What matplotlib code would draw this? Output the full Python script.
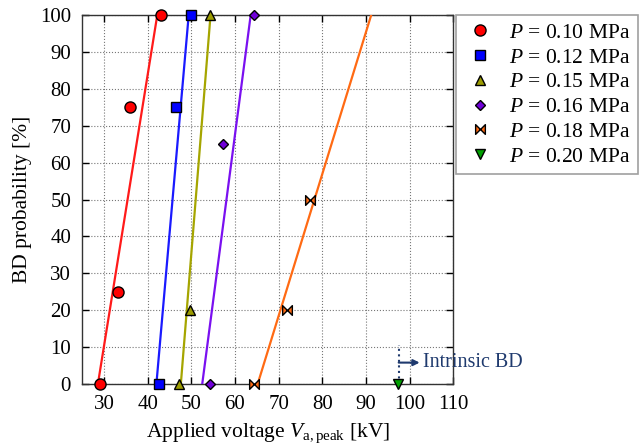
import matplotlib
matplotlib.use('Agg')
import matplotlib.pyplot as plt
from matplotlib.path import Path
import numpy as np

plt.rcParams['font.family'] = ['Liberation Serif', 'DejaVu Serif']
plt.rcParams['mathtext.fontset'] = 'custom'
plt.rcParams['mathtext.rm'] = 'Liberation Serif'
plt.rcParams['mathtext.it'] = 'Liberation Serif:italic'

# measured points (voltage kV, BD probability %)
pressures = ['0.10', '0.12', '0.15', '0.16', '0.18', '0.20']
v_010 = [29.0, 33.3, 35.9, 43.0]
p_010 = [0, 25, 75, 100]
v_012 = [42.5, 46.6, 49.9]
p_012 = [0, 75, 100]
v_015 = [47.1, 49.8, 54.3]
p_015 = [0, 20, 100]
v_016 = [54.2, 57.3, 64.4]
p_016 = [0, 65, 100]
v_018 = [64.4, 71.9, 77.3]
p_018 = [0, 20, 50]
v_020 = [97.3]
p_020 = [0]

# fitted lines: voltage at 0 % and at 100 %
fit_010 = [28.6, 42.2]
fit_012 = [42.0, 49.4]
fit_015 = [47.6, 54.4]
fit_016 = [52.5, 63.6]
fit_018 = [65.2, 91.2]

bowtie = Path([(-1, -1), (-1, 1), (0, 0), (1, 1), (1, -1), (0, 0), (-1, -1)],
              [Path.MOVETO, Path.LINETO, Path.LINETO, Path.LINETO,
               Path.LINETO, Path.LINETO, Path.CLOSEPOLY])

series = [
    (v_010, p_010, fit_010, 'o', '#ff0000', '#ff1a1a', 8),
    (v_012, p_012, fit_012, 's', '#0000ff', '#1a1aff', 7),
    (v_015, p_015, fit_015, '^', '#9c9c00', '#a5a500', 7.5),
    (v_016, p_016, fit_016, 'D', '#7000d8', '#7a10f0', 5.5),
    (v_018, p_018, fit_018, bowtie, '#ff6a13', '#ff6a13', 7),
    (v_020, p_020, None, 'v', '#00a000', None, 7.5),
]

fig = plt.figure(figsize=(6.42, 4.46), dpi=100)
ax = fig.add_axes([0.128, 0.139, 0.578, 0.827])

for (v, p, fit, mk, c, lc, ms), pr in zip(series, pressures):
    if fit is not None:
        ax.plot(fit, [0, 100], color=lc, lw=1.6, zorder=3)
    ax.plot(v, p, linestyle='none', marker=mk, markersize=ms,
            markerfacecolor=c, markeredgecolor='black', markeredgewidth=1.0,
            clip_on=False, zorder=4,
            label='$P$ = ' + pr + ' MPa')

# intrinsic breakdown annotation
ax.plot([97.5, 97.5], [0, 10.5], linestyle=':', color='#1f3a6e', lw=1.5,
        zorder=3)
ax.annotate('', xy=(102.3, 5.8), xytext=(97.5, 5.8),
            arrowprops=dict(arrowstyle='-|>', color='#1f3a6e', lw=1.5,
                            mutation_scale=9, shrinkA=0, shrinkB=0))
ax.text(103.0, 5.8, 'Intrinsic BD', color='#1f3a6e', fontsize=14.5,
        va='center', ha='left', clip_on=False)

ax.set_xlim(25, 110)
ax.set_ylim(0, 100)
ax.set_xticks(np.arange(30, 111, 10))
ax.set_yticks(np.arange(0, 101, 10))
ax.tick_params(direction='in', length=5, width=1, top=True, right=True,
               labelsize=15, colors='black', pad=8)
ax.grid(True, linestyle=':', color='#777777', lw=0.8)
for s in ax.spines.values():
    s.set_color('#333333')
    s.set_linewidth(1.0)

ax.set_xlabel('Applied voltage $V_{\\mathrm{a,peak}}$ [kV]', fontsize=15.5,
              labelpad=5)
ax.set_ylabel('BD probability [%]', fontsize=15.5, labelpad=6)

leg = fig.legend(loc='upper left', bbox_to_anchor=(0.71, 0.966),
                 borderaxespad=0, fontsize=15.5, frameon=True,
                 fancybox=False, edgecolor='#888888', handletextpad=0.6,
                 borderpad=0.35, labelspacing=0.22, handlelength=1.5)
leg.get_frame().set_linewidth(1.2)

fig.savefig('out.png', dpi=100)
